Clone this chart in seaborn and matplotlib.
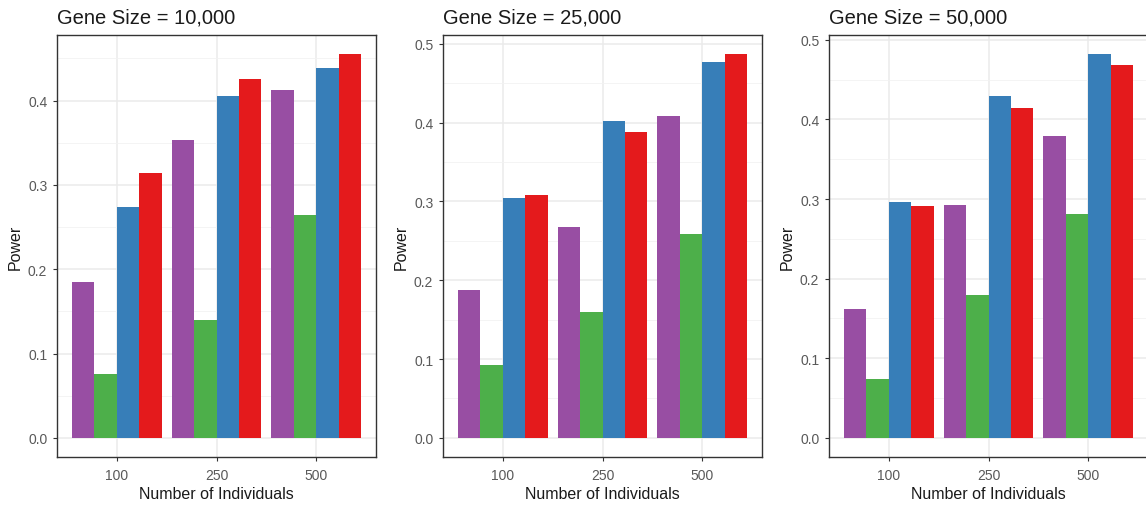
import pandas as pd
import matplotlib.pyplot as plt
import seaborn as sns

CATEGORIES = ["100", "250", "500"]
METHODS = ["M1", "M2", "M3", "M4"]
COLORS = ["#984EA3", "#4DAF4A", "#377EB8", "#E41A1C"]
TITLES = ["Gene Size = 10,000", "Gene Size = 25,000", "Gene Size = 50,000"]

# power per method, one value per number of individuals (100, 250, 500)
gene_10k = {
    "M1": [0.185, 0.353, 0.412],
    "M2": [0.076, 0.140, 0.264],
    "M3": [0.274, 0.405, 0.439],
    "M4": [0.314, 0.426, 0.455],
}
gene_25k = {
    "M1": [0.188, 0.268, 0.409],
    "M2": [0.093, 0.160, 0.259],
    "M3": [0.305, 0.402, 0.477],
    "M4": [0.308, 0.388, 0.487],
}
gene_50k = {
    "M1": [0.162, 0.292, 0.379],
    "M2": [0.074, 0.180, 0.281],
    "M3": [0.296, 0.430, 0.482],
    "M4": [0.291, 0.415, 0.468],
}


def to_long(values):
    rows = []
    for m in METHODS:
        for c, v in zip(CATEGORIES, values[m]):
            rows.append({"n": c, "method": m, "power": v})
    return pd.DataFrame(rows)


sns.set_theme(style="white")
plt.rcParams["font.family"] = ["Liberation Sans", "DejaVu Sans"]

fig = plt.figure(figsize=(11.46, 5.06), dpi=100)
W, H = 1146, 506
lefts = [57, 443, 829]

for left, title, values in zip(lefts, TITLES, [gene_10k, gene_25k, gene_50k]):
    ax = fig.add_axes([left / W, 48 / H, 319 / W, 422 / H])
    df = to_long(values)
    sns.barplot(data=df, x="n", y="power", hue="method", order=CATEGORIES,
                hue_order=METHODS, palette=COLORS, width=0.9, saturation=1,
                linewidth=0, legend=False, ax=ax)
    top = df["power"].max()
    ax.set_ylim(-0.05 * top, 1.05 * top)
    ax.set_xlim(-0.6, 2.6)
    ticks = [t / 10 for t in range(0, 6) if t / 10 <= 1.05 * top]
    ax.set_yticks(ticks)
    ax.set_yticklabels([f"{t:.1f}" for t in ticks])
    ax.set_yticks([t + 0.05 for t in ticks if t + 0.05 <= 1.05 * top], minor=True)
    ax.set_axisbelow(True)
    ax.grid(which="major", axis="both", color="#EBEBEB", linewidth=1.1)
    ax.grid(which="minor", axis="y", color="#F2F2F2", linewidth=0.6)
    for s in ax.spines.values():
        s.set_color("#333333")
        s.set_linewidth(1.0)
    ax.tick_params(axis="both", which="major", length=3, width=0.8, color="#333333",
                   labelsize=10, labelcolor="#595959", left=True, bottom=True, pad=4)
    ax.tick_params(axis="x", which="major", pad=5)
    ax.tick_params(axis="y", which="minor", length=0)
    ax.set_xlabel("Number of Individuals", fontsize=11.5, color="#1A1A1A", labelpad=3)
    ax.set_ylabel("Power", fontsize=11.5, color="#1A1A1A", labelpad=4)
    ax.set_title(title, loc="left", fontsize=14.5, color="#1A1A1A", pad=9)

fig.savefig("out.png", dpi=100)
